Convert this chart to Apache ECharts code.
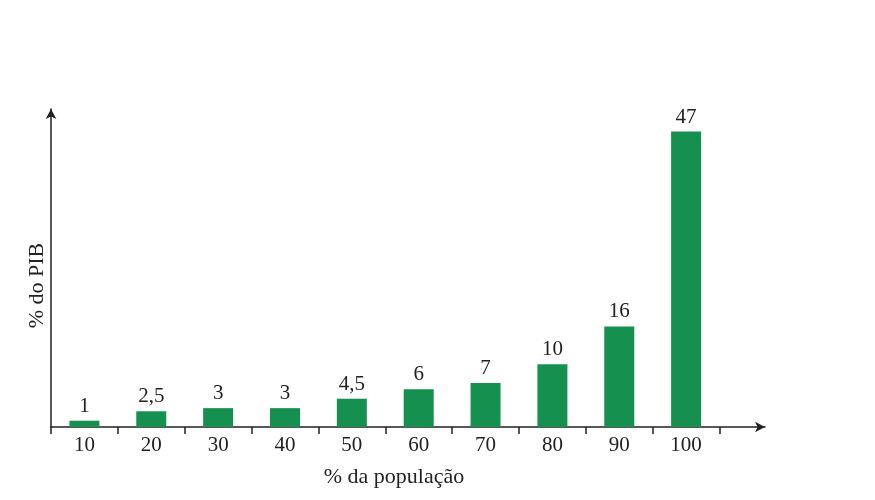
<!DOCTYPE html>
<html>
<head>
<meta charset="utf-8">
<script src="https://cdn.jsdelivr.net/npm/echarts@6/dist/echarts.min.js"></script>
<style>
  html, body { margin: 0; padding: 0; background: #fff; }
  #main { width: 875px; height: 500px; }
</style>
</head>
<body>
<div id="main"></div>
<script>
// faixas da população (%)
var categories = ['10', '20', '30', '40', '50', '60', '70', '80', '90', '100'];
// participação no PIB (%)
var pibValues = [1, 2.5, 3, 3, 4.5, 6, 7, 10, 16, 47];
var tickValues = [0, 1, 2, 3, 4, 5, 6, 7, 8, 9, 10];

var serif = '"Liberation Serif", "DejaVu Serif", serif';
var ink = '#222';

var chart = echarts.init(document.getElementById('main'));

// cada barra fica no meio da sua faixa
var barData = categories.map(function (c, i) {
    return [i + 0.5, pibValues[i]];
});
var labelPos = categories.map(function (c, i) { return i + 0.5; });

var option = {
    backgroundColor: '#fff',
    animation: false,
    grid: { left: 51, right: 110, top: 109, bottom: 73 },
    xAxis: {
        type: 'value',
        min: 0,
        max: 10.68,
        name: '% da população',
        nameLocation: 'middle',
        nameGap: 39,
        nameTextStyle: { fontFamily: serif, fontSize: 22, color: ink, padding: [0, 28, 0, 0] },
        axisLine: {
            show: true,
            symbol: ['none', 'arrow'],
            symbolSize: [8, 10],
            lineStyle: { color: ink, width: 1.5 }
        },
        axisTick: {
            show: true,
            customValues: tickValues,
            length: 7,
            lineStyle: { color: ink, width: 1.5 }
        },
        axisLabel: {
            customValues: labelPos,
            margin: 8,
            fontFamily: serif,
            fontSize: 21,
            color: ink,
            formatter: function (v) {
                return categories[Math.floor(v)];
            }
        },
        splitLine: { show: false }
    },
    yAxis: {
        type: 'value',
        min: 0,
        max: 50.6,
        name: '% do PIB',
        nameLocation: 'middle',
        nameGap: 3,
        nameRotate: 90,
        nameTextStyle: { fontFamily: serif, fontSize: 22, color: ink, padding: [0, 35, 0, 0] },
        axisLine: {
            show: true,
            symbol: ['none', 'arrow'],
            symbolSize: [8, 10],
            lineStyle: { color: ink, width: 1.5 }
        },
        axisTick: { show: false },
        axisLabel: { show: false },
        splitLine: { show: false }
    },
    series: [{
        type: 'bar',
        data: barData,
        barWidth: 30,
        itemStyle: { color: '#16904f' },
        label: {
            show: true,
            position: 'top',
            distance: 4,
            fontFamily: serif,
            fontSize: 21,
            color: ink,
            formatter: function (p) {
                return String(p.value[1]).replace('.', ',');
            }
        }
    }]
};

chart.setOption(option);
</script>
</body>
</html>
